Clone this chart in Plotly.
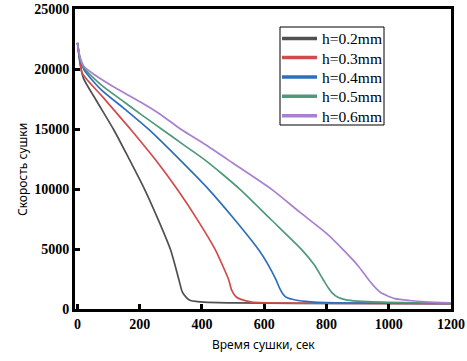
import plotly.graph_objects as go

names = ["h=0.2mm", "h=0.3mm", "h=0.4mm", "h=0.5mm", "h=0.6mm"]
colors = ["#505050", "#d24b4b", "#2f6fba", "#4f9a78", "#a97fd0"]

x_ticks = [0, 200, 400, 600, 800, 1000, 1200]
y_ticks = [0, 5000, 10000, 15000, 20000, 25000]

x02 = [0, 8, 19, 60, 116, 160, 216, 260, 299, 326, 337, 350, 363, 385, 406, 500, 700, 1200]
y02 = [22170, 20500, 19240, 17400, 14960, 12800, 9950, 7400, 4930, 2420, 1400, 950, 710, 620, 570, 510, 470, 440]

x03 = [0, 8, 15, 80, 171, 250, 321, 385, 443, 470, 486, 495, 510, 525, 560, 700, 1200]
y03 = [22170, 20700, 19660, 17700, 14960, 12450, 9950, 7450, 4930, 3400, 2420, 1600, 1000, 800, 580, 490, 450]

x04 = [0, 8, 21, 75, 150, 229, 330, 422, 500, 582, 610, 638, 650, 660, 672, 700, 750, 800, 1200]
y04 = [22170, 20800, 19940, 18300, 16700, 14960, 12400, 9950, 7600, 4930, 3800, 2420, 1700, 1250, 950, 750, 600, 540, 460]

x05 = [0, 8, 21, 75, 150, 205, 272, 340, 408, 465, 523, 620, 721, 760, 790, 805, 820, 835, 860, 900, 1000, 1200]
y05 = [22170, 20900, 20100, 18700, 17250, 16200, 14960, 13700, 12450, 11250, 9950, 7500, 4930, 3700, 2420, 1800, 1300, 1000, 780, 650, 560, 480]

x06 = [0, 8, 21, 56, 120, 205, 270, 331, 408, 500, 625, 715, 800, 854, 900, 936, 960, 975, 993, 1020, 1067, 1120, 1200]
y06 = [22170, 21000, 20200, 19500, 18450, 17200, 16150, 15000, 13750, 12150, 9950, 8050, 6300, 4930, 3650, 2420, 1700, 1350, 1130, 870, 710, 600, 520]

xs = [x02, x03, x04, x05, x06]
ys = [y02, y03, y04, y05, y06]

W, H = 467, 361
L, R, T, B = 75, 16, 9, 52
PW, PH = W - L - R, H - T - B


def px(xp):
    return (xp - L) / PW


def py(yp):
    return (H - B - yp) / PH


fig = go.Figure()
for n, c, x, y in zip(names, colors, xs, ys):
    fig.add_trace(go.Scatter(x=x, y=y, mode="lines", name=n, showlegend=False,
                             line=dict(color=c, width=1.7, shape="spline", smoothing=0.7)))

axis_common = dict(showline=True, linecolor="black", linewidth=3, mirror=True,
                   ticks="inside", ticklen=5, tickwidth=3, tickcolor="black",
                   showgrid=False, zeroline=False, automargin=False,
                   tickfont=dict(family="Liberation Serif", size=14, color="black"))

fig.update_xaxes(range=[-8, 1200], tickvals=x_ticks,
                 ticktext=["<b>%d</b>" % v for v in x_ticks], **axis_common)
fig.update_yaxes(range=[0, 25000], tickvals=y_ticks,
                 ticktext=["<b>%d</b>" % v for v in y_ticks], **axis_common)

shapes = []
annotations = []
# legend box
shapes.append(dict(type="rect", xref="paper", yref="paper",
                   x0=px(280), x1=px(384), y0=py(125), y1=py(27),
                   line=dict(color="black", width=1), fillcolor="white", layer="above"))
row_y = [38.5, 57.5, 77, 96.3, 115.7]
for n, c, ry in zip(names, colors, row_y):
    shapes.append(dict(type="line", xref="paper", yref="paper",
                       x0=px(282), x1=px(317), y0=py(ry), y1=py(ry),
                       line=dict(color=c, width=3.5), layer="above"))
    annotations.append(dict(text=n, xref="paper", yref="paper", x=px(320), y=py(ry + 0.5),
                            xanchor="left", yanchor="middle", showarrow=False,
                            font=dict(family="Liberation Serif", size=15.5, color="black")))

# axis titles
annotations.append(dict(text="Скорость сушки", xref="paper", yref="paper",
                        x=px(22), y=py(170), textangle=-90, showarrow=False,
                        xanchor="center", yanchor="middle",
                        font=dict(family="Noto Sans", size=12, color="black")))
annotations.append(dict(text="Время сушки, сек", xref="paper", yref="paper",
                        x=px(263), y=py(344), showarrow=False,
                        xanchor="center", yanchor="middle",
                        font=dict(family="Noto Sans", size=12, color="black")))

fig.update_layout(
    width=W, height=H,
    margin=dict(l=L, r=R, t=T, b=B),
    plot_bgcolor="white", paper_bgcolor="white",
    showlegend=False,
    shapes=shapes, annotations=annotations,
)

fig.write_html("out.html", config={"displayModeBar": False},
               post_script="document.body.style.margin='0';")
